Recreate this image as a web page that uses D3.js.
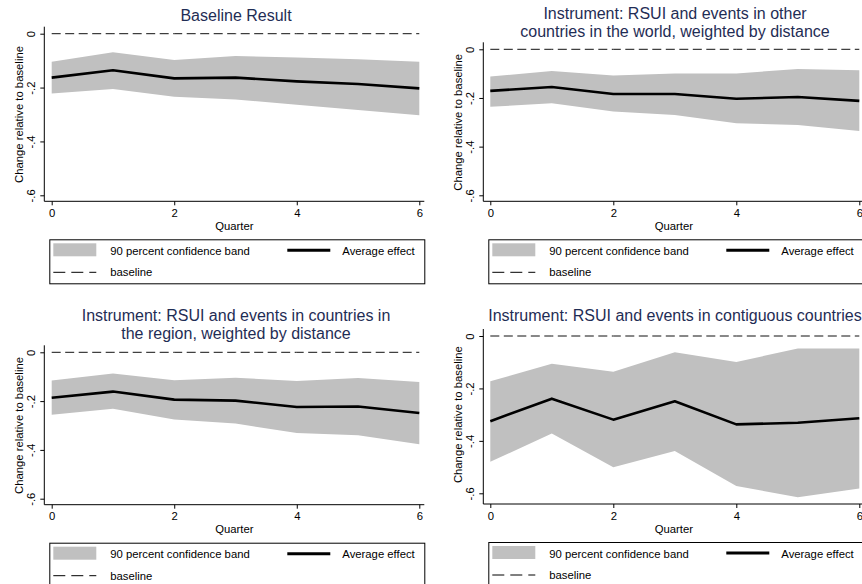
<!DOCTYPE html>
<html>
<head>
<meta charset="utf-8">
<script src="https://cdn.jsdelivr.net/npm/d3@7"></script>
<style>
  body { margin: 0; background: #fff; }
  svg { display: block; font-family: "Liberation Sans", Arial, sans-serif; }
</style>
</head>
<body>
<svg id="chart" width="862" height="584"></svg>
<script>
// Quarters and axis ticks
const quarters = [0, 1, 2, 3, 4, 5, 6];
const xTicks = [0, 2, 4, 6];
const yTicks = [0, -0.2, -0.4, -0.6];
const yTickLabels = ["0", "-.2", "-.4", "-.6"];
const baseline = [0, 0, 0, 0, 0, 0, 0];

const titles = [
  ["Baseline Result"],
  ["Instrument: RSUI and events in other", "countries in the world, weighted by distance"],
  ["Instrument: RSUI and events in countries in", "the region, weighted by distance"],
  ["Instrument: RSUI and events in contiguous countries"]
];

// Average effect and 90% band
const baseMean  = [-0.163, -0.136, -0.166, -0.163, -0.177, -0.187, -0.203];
const baseUpper = [-0.104, -0.069, -0.098, -0.083, -0.088, -0.095, -0.104];
const baseLower = [-0.222, -0.205, -0.234, -0.244, -0.264, -0.283, -0.303];

const worldMean  = [-0.171, -0.155, -0.184, -0.184, -0.203, -0.196, -0.212];
const worldUpper = [-0.112, -0.089, -0.108, -0.099, -0.099, -0.081, -0.086];
const worldLower = [-0.236, -0.222, -0.256, -0.270, -0.304, -0.311, -0.336];

const regionMean  = [-0.186, -0.161, -0.194, -0.198, -0.224, -0.222, -0.249];
const regionUpper = [-0.116, -0.087, -0.115, -0.104, -0.118, -0.105, -0.122];
const regionLower = [-0.256, -0.231, -0.275, -0.292, -0.331, -0.340, -0.377];

const contigMean  = [-0.325, -0.239, -0.319, -0.249, -0.337, -0.331, -0.314];
const contigUpper = [-0.173, -0.106, -0.136, -0.062, -0.099, -0.048, -0.048];
const contigLower = [-0.480, -0.372, -0.501, -0.439, -0.572, -0.615, -0.582];

const seriesList = [
  { mean: baseMean, upper: baseUpper, lower: baseLower },
  { mean: worldMean, upper: worldUpper, lower: worldLower },
  { mean: regionMean, upper: regionUpper, lower: regionLower },
  { mean: contigMean, upper: contigUpper, lower: contigLower }
];

// Panel placement (pixels)
const layout = [
  { axisX: 44.3,  x0: 51.7,  x6: 419.3, y0: 33.7,  y6: 195.3, axisY: 201.3, titleX: 236, titleY: [20.7] },
  { axisX: 483.3, x0: 490.3, x6: 859.3, y0: 49.3,  y6: 195.3, axisY: 201.3, titleX: 675, titleY: [19.2, 37.2] },
  { axisX: 44.3,  x0: 51.7,  x6: 419.3, y0: 352.3, y6: 498.7, axisY: 504.7, titleX: 236, titleY: [321.2, 339.2] },
  { axisX: 483.3, x0: 490.3, x6: 859.3, y0: 336,   y6: 493.3, axisY: 504,   titleX: 675, titleY: [321.3] }
];

const svg = d3.select("#chart");
const smallFont = 11.3;
const bandColor = "#c0c0c0";

layout.forEach((p, i) => {
  const s = seriesList[i];
  const g = svg.append("g");

  const x = d3.scaleLinear().domain([0, 6]).range([p.x0, p.x6]);
  const y = d3.scaleLinear().domain([0, -0.6]).range([p.y0, p.y6]);

  const rows = quarters.map((q, k) => ({ q, mean: s.mean[k], lo: s.lower[k], hi: s.upper[k], base: baseline[k] }));

  // title
  const title = g.append("text")
    .attr("text-anchor", "middle")
    .attr("font-size", 16)
    .attr("fill", "#1f2d55");
  titles[i].forEach((t, k) => {
    title.append("tspan").attr("x", p.titleX).attr("y", p.titleY[k]).text(t);
  });

  // confidence band
  g.append("path")
    .datum(rows)
    .attr("fill", bandColor)
    .attr("d", d3.area().x(d => x(d.q)).y0(d => y(d.lo)).y1(d => y(d.hi)));

  // average effect
  g.append("path")
    .datum(rows)
    .attr("fill", "none")
    .attr("stroke", "#000")
    .attr("stroke-width", 2.6)
    .attr("stroke-linejoin", "round")
    .attr("d", d3.line().x(d => x(d.q)).y(d => y(d.mean)));

  // baseline (zero)
  g.append("path")
    .datum(rows)
    .attr("fill", "none")
    .attr("stroke", "#111")
    .attr("stroke-width", 1)
    .attr("stroke-dasharray", "9,4.5")
    .attr("d", d3.line().x(d => x(d.q)).y(d => y(d.base)));

  // y axis
  const yAxis = g.append("g")
    .attr("transform", `translate(${p.axisX},0)`)
    .call(d3.axisLeft(y).tickValues(yTicks).tickSize(4).tickFormat((d, k) => yTickLabels[k]));
  yAxis.select(".domain").remove();
  yAxis.selectAll("line").attr("stroke", "#000");
  yAxis.selectAll("text")
    .attr("font-family", "Liberation Sans, Arial, sans-serif")
    .attr("font-size", smallFont)
    .attr("fill", "#000")
    .attr("transform", "rotate(-90)")
    .attr("text-anchor", "middle")
    .attr("x", 0)
    .attr("y", -9)
    .attr("dy", 0);
  g.append("line")
    .attr("x1", p.axisX).attr("x2", p.axisX)
    .attr("y1", p.y0 - 7).attr("y2", p.axisY)
    .attr("stroke", "#000");

  g.append("text")
    .attr("transform", `translate(${p.axisX - 21},${(p.y0 + p.y6) / 2}) rotate(-90)`)
    .attr("text-anchor", "middle")
    .attr("font-size", smallFont)
    .text("Change relative to baseline");

  // x axis
  const xAxis = g.append("g")
    .attr("transform", `translate(0,${p.axisY})`)
    .call(d3.axisBottom(x).tickValues(xTicks).tickSize(4).tickPadding(3.5).tickFormat(d3.format("d")));
  xAxis.select(".domain").remove();
  xAxis.selectAll("line").attr("stroke", "#000");
  xAxis.selectAll("text")
    .attr("font-family", "Liberation Sans, Arial, sans-serif")
    .attr("font-size", smallFont)
    .attr("fill", "#000");
  g.append("line")
    .attr("x1", p.axisX).attr("x2", p.x6 + 5)
    .attr("y1", p.axisY).attr("y2", p.axisY)
    .attr("stroke", "#000");

  g.append("text")
    .attr("x", (p.axisX + p.x6 + 5) / 2)
    .attr("y", p.axisY + 28.5)
    .attr("text-anchor", "middle")
    .attr("font-size", smallFont)
    .text("Quarter");

  // legend
  const lx = p.axisX + 5;
  const ly = p.axisY + 38;
  const leg = g.append("g").attr("transform", `translate(${lx},${ly})`);
  leg.append("rect")
    .attr("x", 0.5).attr("y", 0.5)
    .attr("width", p.x6 + 5 - lx).attr("height", 44)
    .attr("fill", "#fff")
    .attr("stroke", "#000");
  leg.append("rect")
    .attr("x", 4).attr("y", 4).attr("width", 43).attr("height", 13)
    .attr("fill", bandColor);
  leg.append("text").attr("x", 61).attr("y", 15.5).attr("font-size", smallFont)
    .text("90 percent confidence band");
  leg.append("line")
    .attr("x1", 238).attr("x2", 281).attr("y1", 11).attr("y2", 11)
    .attr("stroke", "#000").attr("stroke-width", 3);
  leg.append("text").attr("x", 293).attr("y", 15.5).attr("font-size", smallFont)
    .text("Average effect");
  leg.append("line")
    .attr("x1", 4).attr("x2", 47).attr("y1", 33).attr("y2", 33)
    .attr("stroke", "#000").attr("stroke-width", 1)
    .attr("stroke-dasharray", "12,6");
  leg.append("text").attr("x", 61).attr("y", 37).attr("font-size", smallFont)
    .text("baseline");
});
</script>
</body>
</html>
